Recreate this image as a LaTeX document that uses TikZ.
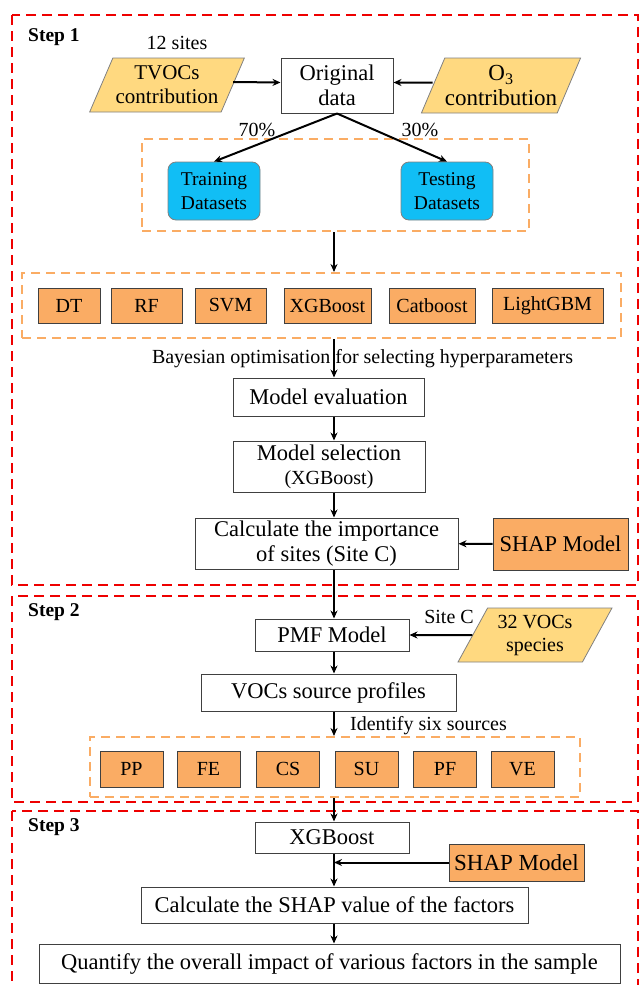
\documentclass[tikz,border=0pt]{standalone}
\usepackage{fontspec}
\setmainfont{Liberation Serif}
\usetikzlibrary{shapes.geometric,arrows.meta}

\definecolor{stepred}{RGB}{238,0,0}
\definecolor{grouporange}{RGB}{250,172,100}
\definecolor{algorange}{RGB}{250,172,100}
\definecolor{inputyellow}{RGB}{255,217,128}
\definecolor{splitblue}{RGB}{17,190,245}
\definecolor{boxgray}{RGB}{64,64,64}

\begin{document}
\begin{tikzpicture}
[every node/.style={inner sep=0pt},
 stepframe/.style={draw=stepred, line width=2.5pt, dash pattern=on 10pt off 6pt},
 groupbox/.style={rectangle, draw=grouporange, line width=2pt, dash pattern=on 9pt off 6pt},
 procbox/.style={rectangle, draw=boxgray, line width=1pt, fill=white, align=center, font=\fontsize{22.5}{25}\selectfont},
 algbox/.style={rectangle, draw=boxgray, line width=1pt, fill=algorange, minimum height=35pt, font=\fontsize{20}{22}\selectfont},
 srcbox/.style={algbox, minimum height=36pt, minimum width=63pt},
 inputbox/.style={trapezium, trapezium left angle=60, trapezium right angle=120, trapezium stretches=true, draw=gray, line width=0.8pt, fill=inputyellow, align=center, font=\fontsize{21}{24}\selectfont},
 databox/.style={rectangle, rounded corners=8pt, draw=gray, line width=0.8pt, fill=splitblue, align=center, minimum width=92pt, minimum height=58pt, font=\fontsize{19.5}{24}\selectfont},
 steplabel/.style={anchor=west, font=\fontsize{19.5}{22}\selectfont\bfseries},
 note/.style={font=\fontsize{20}{22}\selectfont},
 flow/.style={line width=2pt, -{Stealth[length=8pt, width=7pt]}}]
\useasboundingbox (0pt, 0pt) rectangle (639pt, -985pt);
\coordinate (spine) at (334pt, 0pt);

% step frames
\draw [stepframe] (12pt, -15pt) rectangle (638pt, -585pt);
\draw [stepframe] (12pt, -596pt) rectangle (638pt, -802pt);
\draw [stepframe] (12pt, -811pt) rectangle (638pt, -995pt);
\node (s1) [steplabel] at (28pt, -37pt) {Step 1};
\node (s2) [steplabel] at (28pt, -612pt) {Step 2};
\node (s3) [steplabel] at (28pt, -827pt) {Step 3};

% step 1
\node (tvoc) [inputbox, minimum width=155pt, minimum height=54pt] at (167pt, -85pt) {TVOCs\\contribution};
\node (sites) [note] at (177pt, -43pt) {12 sites};
\node (orig) [procbox, minimum width=112pt, minimum height=55pt] at (337pt, -85.5pt) {Original\\data};
\node (ozone) [inputbox, minimum width=154pt, minimum height=55pt, font=\fontsize{23}{25}\selectfont] at (501pt, -85.5pt) {O\textsubscript{3}\\contribution};
\node (grp1) [groupbox, minimum width=387pt, minimum height=92pt] at (335.5pt, -185pt) {};
\node (train) [databox] at (214pt, -191pt) {Training\\Datasets};
\node (test) [databox] at (447pt, -191pt) {Testing\\Datasets};
\node (p70) [note] at (257pt, -130pt) {70\%};
\node (p30) [note] at (420pt, -130pt) {30\%};
\node (grp2) [groupbox, minimum width=599pt, minimum height=65pt] at (321.5pt, -305.5pt) {};
\node (dt) [algbox, minimum width=62pt] at (69pt, -305.5pt) {DT};
\node (rf) [algbox, minimum width=71pt] at (146.5pt, -305.5pt) {RF};
\node (svm) [algbox, minimum width=71pt] at (230.5pt, -305.5pt) {SVM};
\node (xgbm) [algbox, minimum width=87pt] at (327.5pt, -305.5pt) {XGBoost};
\node (cat) [algbox, minimum width=86pt] at (432pt, -305.5pt) {Catboost};
\node (lgbm) [algbox, minimum width=111pt] at (547.5pt, -305.5pt) {LightGBM};
\node (bayes) [note] at (362.5pt, -359pt) {Bayesian optimisation for selecting hyperparameters};
\node (eval) [procbox, minimum width=191pt, minimum height=38pt] at (328.5pt, -397pt) {Model evaluation};
\node (select) [procbox, minimum width=192pt, minimum height=51pt] at (329pt, -466.5pt) {Model selection\\[-1pt]{\fontsize{20}{22}\selectfont(XGBoost)}};
\node (calcimp) [procbox, minimum width=263pt, minimum height=51pt] at (326.5pt, -543.5pt) {Calculate the importance\\of sites (Site C)};
\node (shap1) [algbox, minimum width=135pt, minimum height=52pt, font=\fontsize{22.5}{25}\selectfont] at (560.5pt, -544pt) {SHAP Model};

\draw [flow] ([yshift=3pt]tvoc.east) to ([yshift=3pt]orig.west);
\draw [flow] ([yshift=3pt]ozone.west) to ([yshift=3pt]orig.east);
\draw [flow] (orig.south) to (train.north);
\draw [flow] (orig.south) to (test.north);
\draw [flow] (grp1.south -| spine) to (grp2.north -| spine);
\draw [flow] (grp2.south -| spine) to (eval.north -| spine);
\draw [flow] (eval.south -| spine) to (select.north -| spine);
\draw [flow] (select.south -| spine) to (calcimp.north -| spine);
\draw [flow] (shap1) to (calcimp);

% step 2
\node (pmf) [procbox, minimum width=154pt, minimum height=32pt] at (332pt, -635pt) {PMF Model};
\node (vocs) [inputbox, minimum width=154pt, minimum height=54pt, font=\fontsize{20}{23}\selectfont] at (535pt, -635pt) {32 VOCs\\species};
\node (sitec) [note] at (449pt, -617pt) {Site C};
\node (prof) [procbox, minimum width=255pt, minimum height=37pt] at (328.5pt, -692.5pt) {VOCs source profiles};
\node (ident) [note, anchor=west] at (350pt, -726pt) {Identify six sources};
\node (grp3) [groupbox, minimum width=490pt, minimum height=60pt] at (335pt, -767pt) {};
\node (pp) [srcbox] at (131.5pt, -769pt) {PP};
\node (fe) [srcbox] at (208.5pt, -769pt) {FE};
\node (cs) [srcbox] at (288pt, -769pt) {CS};
\node (su) [srcbox] at (366.5pt, -769pt) {SU};
\node (pf) [srcbox] at (445pt, -769pt) {PF};
\node (ve) [srcbox] at (522.5pt, -769pt) {VE};

\draw [flow] (calcimp.south -| spine) to (pmf.north -| spine);
\draw [flow] (vocs) to (pmf);
\draw [flow] (pmf.south -| spine) to (prof.north -| spine);
\draw [flow] (prof.south -| spine) to (grp3.north -| spine);

% step 3
\node (xgb) [procbox, minimum width=154pt, minimum height=31pt] at (332pt, -837.5pt) {XGBoost};
\node (shap3) [algbox, minimum width=135pt, minimum height=37pt, font=\fontsize{23}{25}\selectfont] at (516.5pt, -862.5pt) {SHAP Model};
\node (calcshap) [procbox, minimum width=387pt, minimum height=36pt] at (334.5pt, -905pt) {Calculate the SHAP value of the factors};
\node (quant) [procbox, minimum width=581pt, minimum height=39pt] at (329.5pt, -963.5pt) {Quantify the overall impact of various factors in the sample};

\draw [flow] (grp3.south -| spine) to (xgb.north -| spine);
\draw [flow] (xgb.south -| spine) to (calcshap.north -| spine);
\draw [flow] (shap3.west) to (shap3.west -| spine);
\draw [flow] (calcshap.south -| spine) to (quant.north -| spine);
\end{tikzpicture}
\end{document}
